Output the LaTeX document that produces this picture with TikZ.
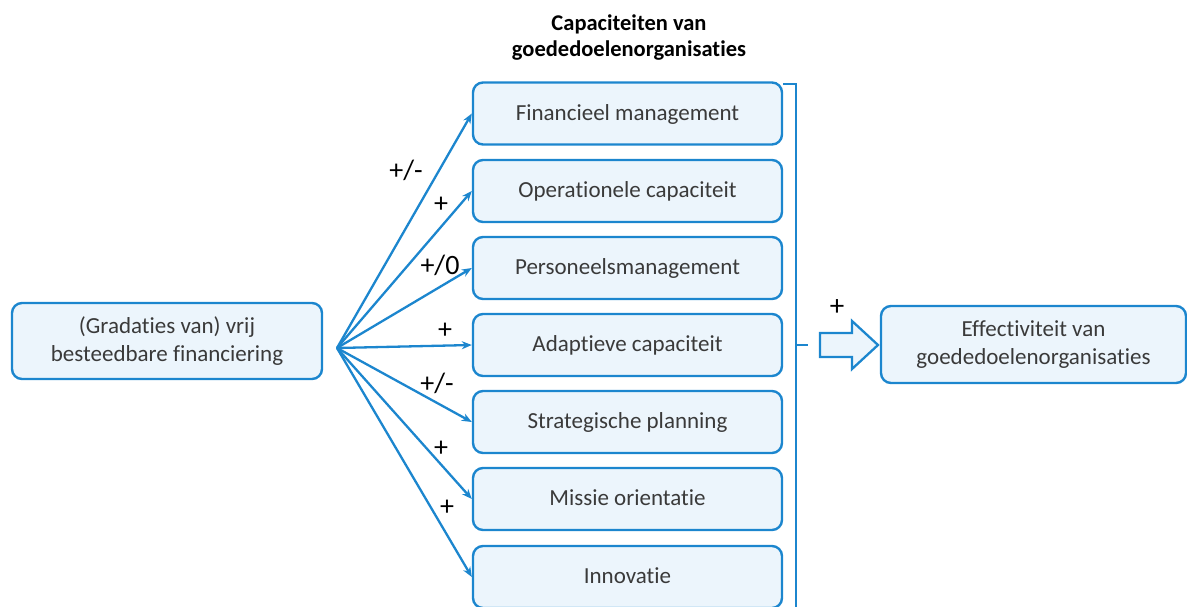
\documentclass[tikz,border=0pt]{standalone}
\usepackage{fontspec}
\setmainfont{Carlito}[Ligatures={NoCommon}]
\usetikzlibrary{arrows.meta}
\definecolor{bblue}{RGB}{28,134,206}
\definecolor{bfill}{RGB}{236,245,252}
\definecolor{tgrey}{RGB}{58,58,58}
\tikzset{
  box/.style={draw=bblue, line width=2.4pt, fill=bfill, rounded corners=10pt, text=tgrey, align=center, font=\fontsize{23}{28.5}\selectfont, inner sep=0pt},
  capbox/.style={box, minimum width=309pt, minimum height=62pt, text depth=2pt},
  fanarrow/.style={draw=bblue, line width=2.3pt, -{Stealth[length=10pt,width=8pt]}},
  sign/.style={font=\fontsize{28}{28}\selectfont, text=black, inner sep=0pt},
}
\begin{document}
\begin{tikzpicture}[x=1pt,y=-1pt]
\useasboundingbox (0,0) rectangle (1187,606);
\begin{scope}
\clip (0,0) rectangle (1187,606);
\node[font=\bfseries\fontsize{22.5}{26}\selectfont, align=center, text=black] (title) at (629,38) {Capaciteiten van\\goededoelenorganisaties};
\node[capbox] (b1) at (627.5,113.5) {Financieel management};
\node[capbox] (b2) at (627.5,191) {Operationele capaciteit};
\node[capbox] (b3) at (627.5,268) {Personeelsmanagement};
\node[capbox] (b4) at (627.5,345) {Adaptieve capaciteit};
\node[capbox] (b5) at (627.5,422) {Strategische planning};
\node[capbox] (b6) at (627.5,499) {Missie orientatie};
\node[capbox] (b7) at (627.5,577) {Innovatie};
\node[box, minimum width=310pt, minimum height=76pt] (src) at (167,341) {(Gradaties van) vrij\\besteedbare financiering};
\node[box, minimum width=305pt, minimum height=77pt] (eff) at (1033.5,344.5) {Effectiviteit van\\goededoelenorganisaties};
\coordinate (fan) at (337,348);
\foreach \i in {1,...,7} { \draw[fanarrow] (fan) -- (b\i.west); }
\node[sign] (s1) at (406,170) {+/-};
\node[sign] (s2) at (441,205) {+};
\node[sign] (s3) at (440,265) {+/0};
\node[sign] (s4) at (445,331) {+};
\node[sign] (s5) at (437,383) {+/-};
\node[sign] (s6) at (441,449) {+};
\node[sign] (s7) at (447,508) {+};
% bracket
\coordinate (brt) at (783,84);
\coordinate (brb) at (796,610);
\draw[bblue, line width=2.3pt] (brt) -- (796,84) -- (brb);
\coordinate (brm) at (796,345);
\coordinate (brn) at (808,345);
\draw[bblue, line width=2.3pt] (brm) -- (brn);
% block arrow
\draw[bblue, line width=2.3pt, fill=bfill, line join=miter] (820,333) -- (852,333) -- (852,321) -- (878,345) -- (852,369) -- (852,357) -- (820,357) -- cycle;
\node[font=\fontsize{29}{29}\selectfont, text=black, inner sep=0pt] (plus) at (837,308) {+};
\end{scope}
\end{tikzpicture}
\end{document}
